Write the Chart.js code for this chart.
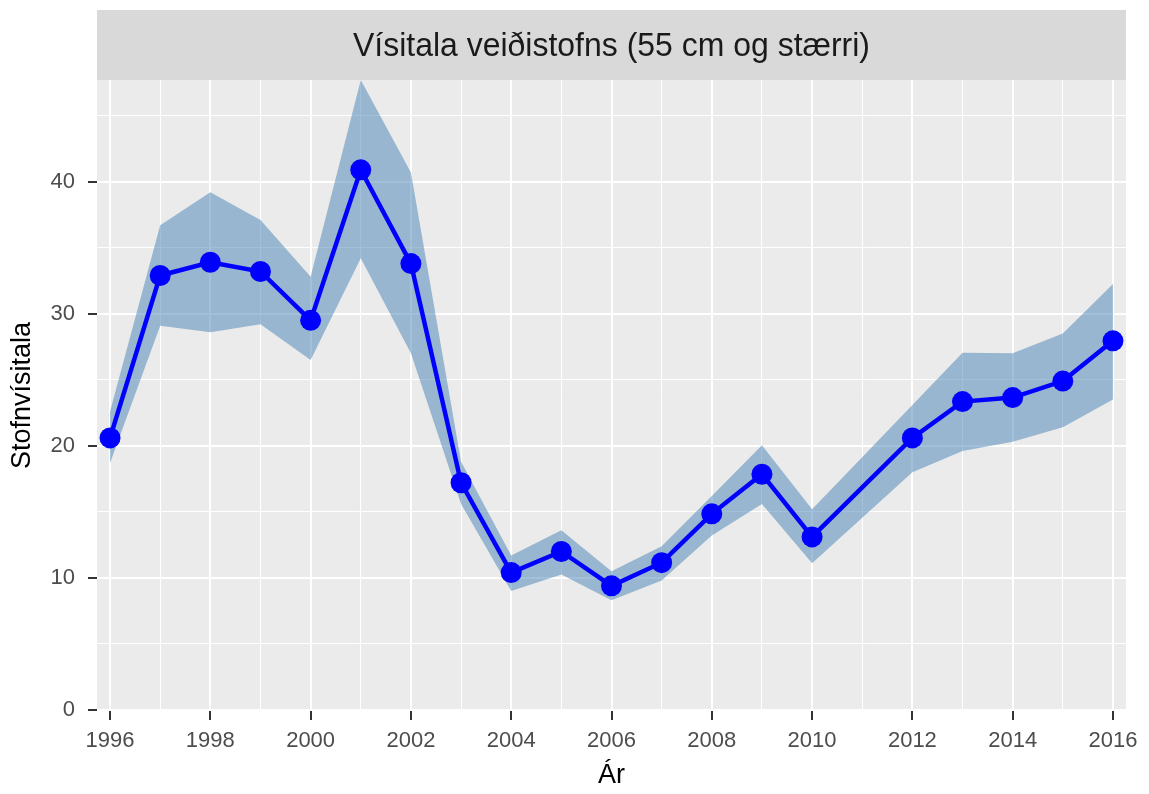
<!DOCTYPE html>
<html>
<head>
<meta charset="utf-8">
<script src="https://cdn.jsdelivr.net/npm/chart.js@4.4.1/dist/chart.umd.min.js"></script>
<style>
  html, body { margin: 0; padding: 0; background: #ffffff; }
  #wrap { width: 1149px; height: 794px; }
</style>
</head>
<body>
<div id="wrap"><canvas id="visitalaChart" width="1149" height="794"></canvas></div>
<script>
    // Ár (2011 vantar í gögnin)
    const years = [1996, 1997, 1998, 1999, 2000, 2001, 2002, 2003, 2004, 2005, 2006,
                   2007, 2008, 2009, 2010, 2012, 2013, 2014, 2015, 2016];
    const index = [20.6, 32.9, 33.9, 33.2, 29.5, 40.9, 33.8, 17.2, 10.4, 12.0, 9.4,
                   11.15, 14.85, 17.85, 13.1, 20.6, 23.35, 23.65, 24.9, 27.95];
    const upper = [22.6, 36.7, 39.2, 37.1, 32.8, 47.7, 40.7, 18.8, 11.7, 13.6, 10.5,
                   12.4, 16.2, 20.05, 15.2, 23.1, 27.05, 27.0, 28.5, 32.25];
    const lower = [18.7, 29.1, 28.6, 29.2, 26.5, 34.2, 27.0, 15.6, 9.0, 10.25, 8.3,
                   9.8, 13.2, 15.6, 11.1, 18.0, 19.6, 20.3, 21.4, 23.5];

    const yTicks = [0, 5, 10, 15, 20, 25, 30, 35, 40, 45];
    const xTicks = [1996, 1997, 1998, 1999, 2000, 2001, 2002, 2003, 2004, 2005, 2006,
                    2007, 2008, 2009, 2010, 2011, 2012, 2013, 2014, 2015, 2016];

    const stripTitle = "Vísitala veiðistofns (55 cm og stærri)";
    const FONT = "'Liberation Sans', Arial, Helvetica, sans-serif";

    const toPoints = arr => years.map((yr, i) => ({ x: yr, y: arr[i] }));

    // ggplot-lík bakgrunnur og fyrirsagnarborði
    const panelPlugin = {
        id: "panel",
        beforeDraw(chart) {
            const { ctx, chartArea } = chart;
            const cx = (chartArea.left + chartArea.right) / 2;
            ctx.save();
            ctx.fillStyle = "#EBEBEB";
            ctx.fillRect(chartArea.left, chartArea.top, chartArea.right - chartArea.left, chartArea.bottom - chartArea.top);
            ctx.fillStyle = "#D9D9D9";
            ctx.fillRect(chartArea.left, 10, chartArea.right - chartArea.left, chartArea.top - 10);
            ctx.fillStyle = "#1A1A1A";
            ctx.font = "34px " + FONT;
            ctx.textAlign = "center";
            ctx.textBaseline = "middle";
            // letrið í fyrirmyndinni er aðeins þjappað
            const sx = 517 / ctx.measureText(stripTitle).width;
            ctx.translate(cx, (10 + chartArea.top) / 2 + 2);
            ctx.scale(sx, 1);
            ctx.fillText(stripTitle, 0, 0);
            ctx.restore();
        }
    };

    const isMajorY = v => v % 10 === 0;
    const isMajorX = v => v % 2 === 0;

    new Chart(document.getElementById("visitalaChart").getContext("2d"), {
        type: "line",
        data: {
            datasets: [
                {
                    label: "Vísitala",
                    data: toPoints(index),
                    borderColor: "#0000FF",
                    backgroundColor: "#0000FF",
                    borderWidth: 4.5,
                    pointRadius: 10.5,
                    pointBackgroundColor: "#0000FF",
                    pointBorderWidth: 0,
                    tension: 0,
                    fill: false
                },
                {
                    label: "Efri mörk",
                    data: toPoints(upper),
                    borderWidth: 0,
                    borderColor: "rgba(0,0,0,0)",
                    pointRadius: 0,
                    backgroundColor: "rgba(70, 130, 180, 0.5)",
                    fill: "+1",
                    tension: 0
                },
                {
                    label: "Neðri mörk",
                    data: toPoints(lower),
                    borderWidth: 0,
                    borderColor: "rgba(0,0,0,0)",
                    pointRadius: 0,
                    fill: false,
                    tension: 0
                }
            ]
        },
        options: {
            responsive: false,
            devicePixelRatio: 1,
            animation: false,
            layout: { padding: { top: 80, right: 23, left: 0, bottom: 0 } },
            plugins: {
                legend: { display: false },
                tooltip: { enabled: false },
                title: { display: false }
            },
            scales: {
                x: {
                    type: "linear",
                    min: 1995.74,
                    max: 2016.26,
                    afterBuildTicks: scale => { scale.ticks = xTicks.map(v => ({ value: v })); },
                    afterFit: scale => { scale.height = 83; },
                    border: { display: false },
                    grid: {
                        color: "#FFFFFF",
                        lineWidth: c => (isMajorX(c.tick.value) ? 2 : 1),
                        tickColor: c => (isMajorX(c.tick.value) ? "#333333" : "rgba(0,0,0,0)"),
                        tickLength: 9,
                        tickWidth: 2
                    },
                    ticks: {
                        autoSkip: false,
                        maxRotation: 0,
                        padding: 8,
                        color: "#4D4D4D",
                        font: { family: FONT, size: 22 },
                        callback: v => (isMajorX(v) ? String(v) : "")
                    },
                    title: {
                        display: true,
                        text: "Ár",
                        color: "#000000",
                        font: { family: FONT, size: 27 },
                        padding: { top: 0, bottom: 2 }
                    }
                },
                y: {
                    type: "linear",
                    min: -0.08,
                    max: 47.7,
                    afterBuildTicks: scale => { scale.ticks = yTicks.map(v => ({ value: v })); },
                    afterFit: scale => { scale.width = 97; },
                    border: { display: false },
                    grid: {
                        color: "#FFFFFF",
                        lineWidth: c => (isMajorY(c.tick.value) ? 2 : 1),
                        tickColor: c => (isMajorY(c.tick.value) ? "#333333" : "rgba(0,0,0,0)"),
                        tickLength: 9,
                        tickWidth: 2
                    },
                    ticks: {
                        padding: 13,
                        color: "#4D4D4D",
                        font: { family: FONT, size: 22 },
                        callback: v => (isMajorY(v) ? String(v) : "")
                    },
                    title: {
                        display: true,
                        text: "Stofnvísitala",
                        color: "#000000",
                        font: { family: FONT, size: 27 },
                        padding: { top: 6, bottom: 0 }
                    }
                }
            }
        },
        plugins: [panelPlugin]
    });
</script>
</body>
</html>
